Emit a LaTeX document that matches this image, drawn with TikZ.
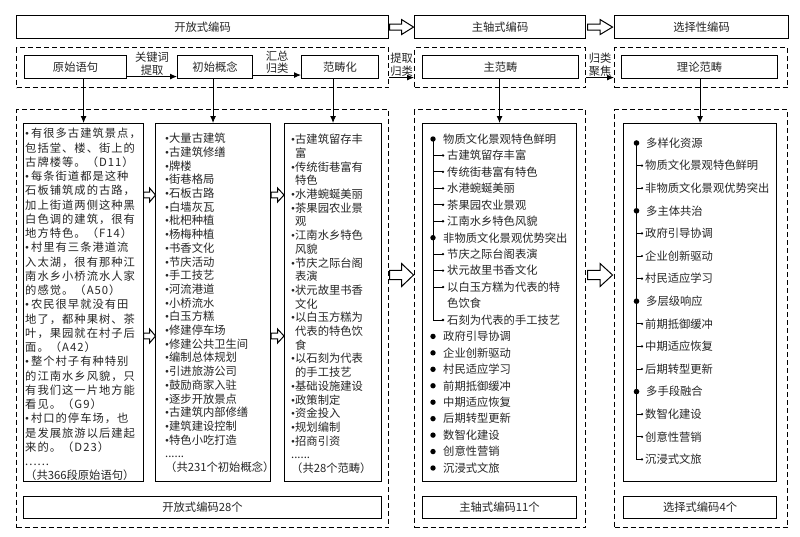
\documentclass[tikz,border=0pt]{standalone}
\usepackage{fontspec}
\setmainfont{Noto Sans CJK SC}
\newfontfamily\spacedfont[LetterSpace=9]{Noto Sans CJK SC}
\newfontfamily\bulletfont{Liberation Serif}
\newcommand{\bulletmark}{{\bulletfont\char"2022}}
\newcommand{\indentmark}{\hphantom{\bulletmark}}
\usetikzlibrary{arrows.meta,positioning,calc}

\begin{document}
\begin{tikzpicture}[x=1pt, y=-1pt,
    every node/.style={text=black!85, font=\fontsize{11.3}{13.7}\selectfont},
    frame/.style={draw=black, line width=1.1pt, inner sep=0pt, anchor=north west},
    dframe/.style={frame, dash pattern=on 5pt off 3pt},
    list/.style={anchor=north west, inner sep=0pt, align=left},
    item/.style={anchor=west, inner sep=0pt},
    lab/.style={midway, above, inner sep=1pt, align=center, font=\fontsize{11.3}{12.5}\selectfont},
    arrow/.style={-{Latex[length=7pt,width=6pt]}, line width=0.9pt},
    tree/.style={line width=0.9pt},
    hollow/.pic={\draw[line width=1pt, fill=white] (-0.5,-0.2) -- (0,-0.2) -- (0,-0.5) -- (0.5,0) -- (0,0.5) -- (0,0.2) -- (-0.5,0.2) -- cycle;}
  ]
    \fill[white] (0,0) rectangle (800,536);
    \useasboundingbox (0,0) rectangle (800,536);

    % top row
    \node[frame, minimum width=372pt, minimum height=23pt] (openc) at (16,15) {开放式编码};
    \node[frame, minimum width=171pt, minimum height=23pt] (axialc) at (414,15) {主轴式编码};
    \node[frame, minimum width=174pt, minimum height=23pt] (selc) at (614,15) {选择性编码};
    \pic[xscale=24, yscale=15] at ($(openc.east)!0.5!(axialc.west)$) {hollow};
    \pic[xscale=25, yscale=15] at ($(axialc.east)!0.5!(selc.west)$) {hollow};

    % second row
    \node[dframe, minimum width=372pt, minimum height=40pt] (rowa) at (16,47) {};
    \node[dframe, minimum width=171pt, minimum height=40pt] (rowb) at (414,47) {};
    \node[dframe, minimum width=173pt, minimum height=40pt] (rowc) at (614,47) {};
    \node[frame, minimum width=102pt, minimum height=23pt] (yuan) at (24,55) {原始语句};
    \node[frame, minimum width=75pt, minimum height=23pt] (chushi) at (177,55) {初始概念};
    \node[frame, minimum width=77pt, minimum height=23pt] (fanchou) at (301,55) {范畴化};
    \node[frame, minimum width=156pt, minimum height=23pt] (zhu) at (422,55) {主范畴};
    \node[frame, minimum width=156pt, minimum height=23pt] (lilun) at (621,55) {理论范畴};

    \draw[arrow] ([yshift=-9.5pt]yuan.east) -- ([yshift=-9.5pt]chushi.west) node[lab] {关键词\\提取};
    \draw[arrow] ([yshift=-8pt]chushi.east) -- ([yshift=-8pt]fanchou.west) node[lab] {汇总\\归类};
    \draw[arrow] ([yshift=-10pt]rowa.east) -- ([yshift=-10pt]rowb.west) node[lab] {提取\\归类};
    \draw[arrow] ([yshift=-10pt]rowb.east) -- ([yshift=-10pt]rowc.west) node[lab] {归类\\聚焦};

    % lower frames
    \node[dframe, minimum width=372pt, minimum height=418pt] (opena) at (16,109) {};
    \node[dframe, minimum width=171pt, minimum height=418pt] (axa) at (414,109) {};
    \node[dframe, minimum width=173pt, minimum height=418pt] (sela) at (614,109) {};

    \node[frame, minimum width=120pt, minimum height=358pt] (col1) at (23,123) {};
    \node[frame, minimum width=115pt, minimum height=358pt] (col2) at (155,123) {};
    \node[frame, minimum width=97pt, minimum height=358pt] (col3) at (284,123) {};
    \node[frame, minimum width=154pt, minimum height=358pt] (col4) at (422,123) {};
    \node[frame, minimum width=153pt, minimum height=358pt] (col5) at (623,123) {};

    \node[frame, minimum width=358pt, minimum height=22pt] (suma) at (23,496) {开放式编码28个};
    \node[frame, minimum width=154pt, minimum height=22pt] (sumb) at (422,496) {主轴式编码11个};
    \node[frame, minimum width=153pt, minimum height=22pt] (sumc) at (623,496) {选择式编码4个};

    \draw[arrow] (col1.north |- yuan.south) -- (col1.north);
    \draw[arrow] (col2.north |- chushi.south) -- (col2.north);
    \draw[arrow] (col3.north |- fanchou.south) -- (col3.north);
    \draw[arrow] (col4.north |- zhu.south) -- (col4.north);
    \draw[arrow] (col5.north |- lilun.south) -- (col5.north);

    \foreach \dy in {72,213} {
      \pic[xscale=12, yscale=14] at ($(col1.north east)!0.5!(col2.north west)+(0,\dy)$) {hollow};
      \pic[xscale=13, yscale=14] at ($(col2.north east)!0.5!(col3.north west)+(0,\dy)$) {hollow};
    }
    \pic[xscale=24, yscale=23] at ($(opena.north east)!0.5!(axa.north west)+(0,166)$) {hollow};
    \pic[xscale=25, yscale=23] at ($(axa.north east)!0.5!(sela.north west)+(0,166)$) {hollow};

    % open coding lists
    \node[list, font=\spacedfont\fontsize{11.3}{14.25}\selectfont] (txta) at ([shift={(2pt,-5pt)}]col1.north west) {%
      \bulletmark\,有很多古建筑景点，\\
      包括堂、楼、街上的\\
      古牌楼等。（D11）\\
      \bulletmark\,每条街道都是这种\\
      石板铺筑成的古路，\\
      加上街道两侧这种黑\\
      白色调的建筑，很有\\
      地方特色。（F14）\\
      \bulletmark\,村里有三条港道流\\
      入太湖，很有那种江\\
      南水乡小桥流水人家\\
      的感觉。（A50）\\
      \bulletmark\,农民很早就没有田\\
      地了，都种果树、茶\\
      叶，果园就在村子后\\
      面。（A42）\\
      \bulletmark\,整个村子有种特别\\
      的江南水乡风貌，只\\
      有我们这一片地方能\\
      看见。（G9）\\
      \bulletmark\,村口的停车场，也\\
      是发展旅游以后建起\\
      来的。（D23）\\
      ......\\
      {\normalfont（共366段原始语句）}};

    \node[list] (txtb) at ([shift={(10pt,-10pt)}]col2.north west) {%
      \bulletmark 大量古建筑\\ \bulletmark 古建筑修缮\\ \bulletmark 牌楼\\ \bulletmark 街巷格局\\
      \bulletmark 石板古路\\ \bulletmark 白墙灰瓦\\ \bulletmark 枇杷种植\\ \bulletmark 杨梅种植\\
      \bulletmark 书香文化\\ \bulletmark 节庆活动\\ \bulletmark 手工技艺\\ \bulletmark 河流港道\\
      \bulletmark 小桥流水\\ \bulletmark 白玉方糕\\ \bulletmark 修建停车场\\ \bulletmark 修建公共卫生间\\
      \bulletmark 编制总体规划\\ \bulletmark 引进旅游公司\\ \bulletmark 鼓励商家入驻\\ \bulletmark 逐步开放景点\\
      \bulletmark 古建筑内部修缮\\ \bulletmark 建筑建设控制\\ \bulletmark 特色小吃打造\\
      ......\\
      （共231个初始概念）};

    \node[list] (txtc) at ([shift={(7pt,-11pt)}]col3.north west) {%
      \bulletmark 古建筑留存丰\\ \indentmark 富\\
      \bulletmark 传统街巷富有\\ \indentmark 特色\\
      \bulletmark 水港蜿蜒美丽\\
      \bulletmark 茶果园农业景\\ \indentmark 观\\
      \bulletmark 江南水乡特色\\ \indentmark 风貌\\
      \bulletmark 节庆之际台阁\\ \indentmark 表演\\
      \bulletmark 状元故里书香\\ \indentmark 文化\\
      \bulletmark 以白玉方糕为\\ \indentmark 代表的特色饮\\ \indentmark 食\\
      \bulletmark 以石刻为代表\\ \indentmark 的手工技艺\\
      \bulletmark 基础设施建设\\ \bulletmark 政策制定\\ \bulletmark 资金投入\\
      \bulletmark 规划编制\\ \bulletmark 招商引资\\
      ......\\
      （共28个范畴）};

    % axial coding tree
    \foreach \i/\t in {0/物质文化景观特色鲜明, 6/非物质文化景观优势突出, 12/政府引导协调, 13/企业创新驱动,
        14/村民适应学习, 15/前期抵御缓冲, 16/中期适应恢复, 17/后期转型更新, 18/数智化建设, 19/创意性营销, 20/沉浸式文旅} {
      \node[item] (axm\i) at (443, {139+16.45*\i}) {\t};
      \fill ([xshift=-10pt]axm\i.west) circle (2.7pt);
    }
    \foreach \i/\t in {1/古建筑留存丰富, 2/传统街巷富有特色, 3/水港蜿蜒美丽, 4/茶果园农业景观, 5/江南水乡特色风貌,
        7/节庆之际台阁表演, 8/状元故里书香文化, 9/以白玉方糕为代表的特, 11/石刻为代表的手工技艺} {
      \node[item] (axs\i) at (447, {139+16.45*\i}) {\t};
      \draw[tree] ([xshift=-14pt]axs\i.west) -- ([xshift=-4pt]axs\i.west);
      \fill ([xshift=-4pt]axs\i.west) circle (1.3pt);
    }
    \node[item] (axs10) at (447, {139+16.45*10}) {色饮食};
    \draw[tree] ([xshift=-10pt]axm0.west) -- ([xshift=-14pt]axs11.west);

    % selective coding tree
    \foreach \i/\t in {0/多样化资源, 3/多主体共治, 7/多层级响应, 11/多手段融合} {
      \node[item] (thm\i) at (646, {143+22.6*\i}) {\t};
    }
    \foreach \i/\t in {1/物质文化景观特色鲜明, 2/非物质文化景观优势突出, 4/政府引导协调, 5/企业创新驱动,
        6/村民适应学习, 8/前期抵御缓冲, 9/中期适应恢复, 10/后期转型更新, 12/数智化建设, 13/创意性营销, 14/沉浸式文旅} {
      \node[item] (ths\i) at (645, {143+22.6*\i}) {\t};
      \draw[tree] ([xshift=-9pt]ths\i.west) -- ([xshift=-3pt]ths\i.west);
      \fill ([xshift=-3pt]ths\i.west) circle (1.2pt);
    }
    \draw[tree] ([xshift=-10pt]thm0.west) -- ([xshift=-9pt]ths14.west);
    \foreach \i in {0,3,7,11} {
      \fill ([xshift=-9.5pt]thm\i.west) circle (2.8pt);
    }
\end{tikzpicture}
\end{document}
